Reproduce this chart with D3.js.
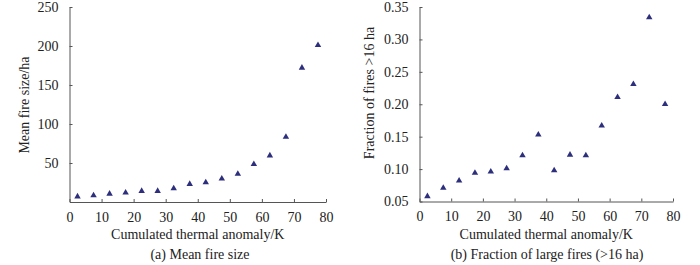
<!DOCTYPE html>
<html>
<head>
<meta charset="utf-8">
<script src="https://cdn.jsdelivr.net/npm/d3@7"></script>
<style>
  body { margin: 0; background: #fff; }
  text { font-family: "Liberation Serif", "Times New Roman", serif; fill: #222; }
</style>
</head>
<body>
<script>
// anomaly bins (K)
const anomaly = [2.5, 7.5, 12.5, 17.5, 22.5, 27.5, 32.5, 37.5, 42.5, 47.5, 52.5, 57.5, 62.5, 67.5, 72.5, 77.5];
// (a) mean fire size, ha
const meanSize = [7, 8.5, 10.5, 12, 14, 14, 17.5, 23, 25, 30, 36, 48.5, 59.5, 83.5, 172, 201];
// (b) fraction of fires > 16 ha
const fracLarge = [0.058, 0.071, 0.082, 0.094, 0.096, 0.101, 0.121, 0.153, 0.098, 0.122, 0.121, 0.167, 0.211, 0.231, 0.334, 0.200];

const xTicks = [0, 10, 20, 30, 40, 50, 60, 70, 80];
const yTicksA = [50, 100, 150, 200, 250];
const yTicksB = [0.05, 0.10, 0.15, 0.20, 0.25, 0.30, 0.35];

function main(){
    const svg = d3.select("body").append("svg")
        .attr("width", 700)
        .attr("height", 265);

    const axisColor = "#555";
    const markColor = "#2d2f7d";

    function panel(cfg){
        const g = svg.append("g");
        const x = d3.scaleLinear().domain([0, 80]).range([cfg.left, cfg.right]);
        const y = d3.scaleLinear().domain(cfg.yDomain).range([cfg.bottom, cfg.top]);

        // x axis, ticks pointing up into the plot
        const xa = g.append("g")
            .attr("transform", "translate(0," + cfg.bottom + ")")
            .call(d3.axisBottom(x).tickValues(xTicks).tickSize(-3).tickPadding(10).tickSizeOuter(0));
        xa.select(".domain").attr("stroke", axisColor);
        xa.selectAll(".tick line").attr("stroke", axisColor);
        xa.selectAll(".tick text").attr("font-size", "14px").attr("fill", "#222")
            .attr("font-family", "Liberation Serif");

        const ya = g.append("g")
            .attr("transform", "translate(" + cfg.left + ",0)")
            .call(d3.axisLeft(y).tickValues(cfg.yTicks).tickSize(-3).tickPadding(11)
                .tickSizeOuter(0).tickFormat(cfg.fmt));
        ya.select(".domain").attr("stroke", axisColor);
        ya.selectAll(".tick line").attr("stroke", axisColor);
        ya.selectAll(".tick text").attr("font-size", "14px").attr("fill", "#222")
            .attr("font-family", "Liberation Serif");

        g.selectAll(".pt")
            .data(cfg.values)
            .join("path")
            .attr("class", "pt")
            .attr("d", d3.symbol().type(d3.symbolTriangle).size(18))
            .attr("transform", (d, i) => "translate(" + x(anomaly[i]) + "," + y(d) + ")")
            .attr("fill", markColor);

        g.append("text")
            .attr("x", (cfg.left + cfg.right) / 2)
            .attr("y", 239)
            .attr("text-anchor", "middle")
            .attr("font-size", "14px")
            .text("Cumulated thermal anomaly/K");

        g.append("text")
            .attr("x", cfg.captionX)
            .attr("y", 259)
            .attr("text-anchor", "middle")
            .attr("font-size", "14px")
            .text(cfg.caption);

        g.append("text")
            .attr("transform", "translate(" + cfg.ylabX + "," + cfg.ylabY + ") rotate(-90)")
            .attr("text-anchor", "middle")
            .attr("font-size", "14px")
            .text(cfg.ylabel);
    }

    panel({
        left: 69.5, right: 326, top: 7, bottom: 202,
        yDomain: [0, 250], yTicks: yTicksA, fmt: d3.format("d"),
        values: meanSize,
        ylabel: "Mean fire size/ha", ylabX: 29, ylabY: 105,
        caption: "(a) Mean fire size", captionX: 200
    });

    panel({
        left: 419.5, right: 673, top: 7, bottom: 201.5,
        yDomain: [0.05, 0.35], yTicks: yTicksB, fmt: d3.format(".2f"),
        values: fracLarge,
        ylabel: "Fraction of fires >16 ha", ylabX: 374, ylabY: 93,
        caption: "(b) Fraction of large fires (>16 ha)", captionX: 547
    });
}
main();
</script>
</body>
</html>
